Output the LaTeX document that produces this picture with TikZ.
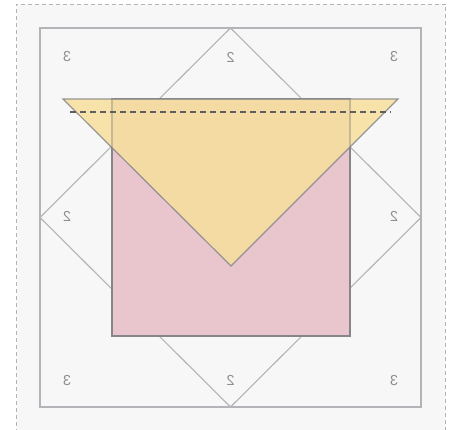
\documentclass[tikz,border=0pt]{standalone}
\usepackage{fontspec}
\setsansfont{Liberation Sans}
\usepackage{xcolor}
\usepackage{graphicx}
\usetikzlibrary{calc}
\definecolor{blockpink}{HTML}{E9C5CE}
\definecolor{blockyellow}{HTML}{F7DF9A}
\definecolor{seamgray}{HTML}{B4B4B8}
\definecolor{edgegray}{HTML}{86868A}
\definecolor{labelgray}{HTML}{8E8E8E}
\definecolor{papergray}{HTML}{F7F7F7}
\newcommand{\flipped}[1]{\reflectbox{#1}}
\tikzset{
  seam/.style={seamgray,line width=1.1pt},
  piece/.style={edgegray,line width=1.2pt},
  patchlabel/.style={text=labelgray,font=\sffamily\fontsize{14.5}{16}\selectfont,inner sep=0pt}
}

\begin{document}
\begin{tikzpicture}[x=1pt,y=-1pt]
  \useasboundingbox (0,0) rectangle (456,430);
  % paper
  \fill[papergray] (16.5,4) rectangle (445,440);
  \draw[seamgray,line width=0.9pt,dash pattern=on 4pt off 3pt] (16.5,440) -- (16.5,4) -- (445,4) -- (445,440);
  % block outline and diamond
  \coordinate (NW) at (40,28);
  \coordinate (SE) at (421,407);
  \coordinate (DN) at (230.5,28);
  \coordinate (DE) at (421,217.5);
  \coordinate (DS) at (230.5,407);
  \coordinate (DW) at (40,217.5);
  \draw[seam] (NW) rectangle (SE);
  \draw[seam] (DN) -- (DE) -- (DS) -- (DW) -- cycle;
  % patch numbers (printed mirrored)
  \node[patchlabel] (n3a) at (67,57) {\flipped{3}};
  \node[patchlabel] (n3b) at (394,57) {\flipped{3}};
  \node[patchlabel] (n3c) at (67,381) {\flipped{3}};
  \node[patchlabel] (n3d) at (394,381) {\flipped{3}};
  \node[patchlabel] (n2a) at (230.5,57) {\flipped{2}};
  \node[patchlabel] (n2b) at (67,216) {\flipped{2}};
  \node[patchlabel] (n2c) at (394,216) {\flipped{2}};
  \node[patchlabel] (n2d) at (230.5,380) {\flipped{2}};
  % pink square
  \coordinate (P1) at (112,99);
  \coordinate (P2) at (350,336);
  \filldraw[fill=blockpink,draw=edgegray,line width=1.2pt] (P1) rectangle (P2);
  % yellow triangle
  \coordinate (T1) at (63,99);
  \coordinate (T2) at (398,99);
  \coordinate (T3) at (231,266);
  \fill[blockyellow,fill opacity=0.82] (T1) -- (T2) -- (T3) -- cycle;
  \draw[edgegray,line width=1.2pt,draw opacity=0.3] (P1) rectangle (P2);
  \draw[piece,draw opacity=0.85] (T1) -- (T2) -- (T3) -- cycle;
  % fold line
  \coordinate (F1) at (70,112);
  \coordinate (F2) at (391,112);
  \draw[edgegray!70!black,line width=1.2pt,dash pattern=on 6pt off 4pt] (F1) -- (F2);
\end{tikzpicture}
\end{document}
